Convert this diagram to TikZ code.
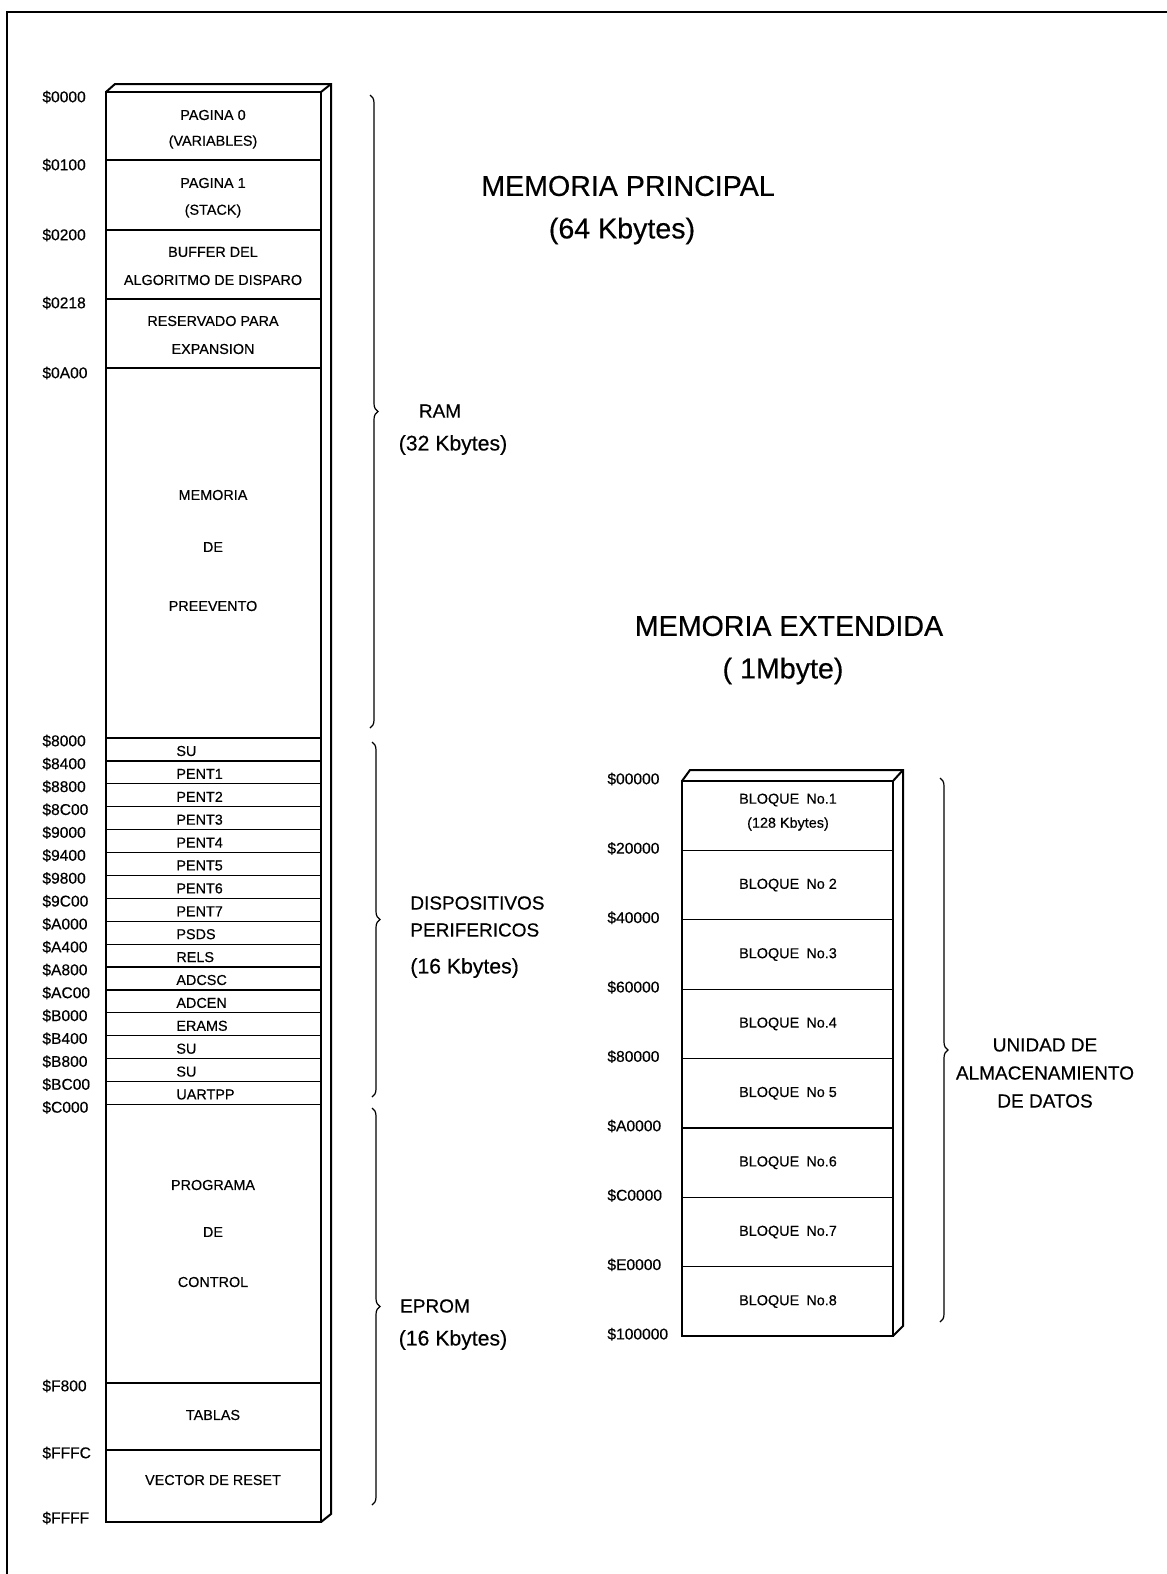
\documentclass[tikz,border=0pt]{standalone}
\usepackage{fontspec}
\setmainfont{Liberation Sans}[FakeBold=0.4]
\usetikzlibrary{positioning, decorations.pathreplacing}
\tikzset{x=0.5pt, y=-0.5pt, % one unit is one pixel of the scan
celda/.style={font=\fontsize{7.2}{8}\selectfont, inner sep=0pt}, % text inside the map
dir/.style={font=\fontsize{7.8}{9}\selectfont, inner sep=0pt, anchor=west}, % addresses
caja/.style={line width=1pt},
linea/.style={line width=0.6pt},
llave/.style={decorate, decoration={brace, amplitude=4pt}, line width=0.6pt},
rotulo/.style={font=\fontsize{9.5}{12}\selectfont, inner sep=0pt},
tamano/.style={font=\fontsize{10.6}{12}\selectfont, inner sep=0pt}, % the (xx Kbytes) lines
titulo/.style={font=\fontsize{14.3}{18}\selectfont, inner sep=0pt},
}

\begin{document}
\begin{tikzpicture}
  \useasboundingbox (0,0) rectangle (1167,1574);
  % frame
  \draw[linea] (7,1574) -- (7,12) -- (1167,12);

  % main memory box
  \draw[caja] (106,92) rectangle (321,1522);
  \draw[caja] (106,92) -- (115,84) -- (331,84) -- (331,1514) -- (321,1522);
  \draw[caja] (321,92) -- (331,84);
  \foreach \y in {160,230,299,368,1383,1450}
    \draw[linea] (106,\y) -- (321,\y);
  \foreach \i in {0,...,16}
    \draw[linea] (106,738+22.9*\i) -- (321,738+22.9*\i);

  \node[celda] (p0a) at (213,115) {PAGINA 0};
  \node[celda] (p0b) at (213,142) {(VARIABLES)};
  \node[celda] (p1a) at (213,183) {PAGINA 1};
  \node[celda] (p1b) at (213,211) {(STACK)};
  \node[celda] (bufa) at (213,252) {BUFFER DEL};
  \node[celda] (bufb) at (213,280) {ALGORITMO DE DISPARO};
  \node[celda] (resa) at (213,321) {RESERVADO PARA};
  \node[celda] (resb) at (213,349) {EXPANSION};
  \node[celda] (prea) at (213,495) {MEMORIA};
  \node[celda] (preb) at (213,547) {DE};
  \node[celda] (prec) at (213,606) {PREEVENTO};
  \node[celda] (proa) at (213,1185) {PROGRAMA};
  \node[celda] (prob) at (213,1232) {DE};
  \node[celda] (proc) at (213,1282) {CONTROL};
  \node[celda] (tab) at (213,1415) {TABLAS};
  \node[celda] (vec) at (213,1480) {VECTOR DE RESET};

  \foreach \i/\nombre in {0/SU,1/PENT1,2/PENT2,3/PENT3,4/PENT4,5/PENT5,6/PENT6,7/PENT7,
      8/PSDS,9/RELS,10/ADCSC,11/ADCEN,12/ERAMS,13/SU,14/SU,15/UARTPP}
    \node[celda, anchor=west] (per\i) at (176,751+22.9*\i) {\nombre};

  % addresses of the main memory
  \foreach \y/\texto [count=\n] in {97/\$0000,165/\$0100,235/\$0200,303/\$0218,373/\$0A00,1386/\$F800,1453/\$FFFC,1518/\$FFFF}
    \node[dir] (dp\n) at (42,\y) {\texto};
  \foreach \i/\texto in {0/\$8000,1/\$8400,2/\$8800,3/\$8C00,4/\$9000,5/\$9400,6/\$9800,7/\$9C00,8/\$A000,
      9/\$A400,10/\$A800,11/\$AC00,12/\$B000,13/\$B400,14/\$B800,15/\$BC00,16/\$C000}
    \node[dir] (dq\i) at (42,741+22.9*\i) {\texto};

  % braces of the main memory
  \draw[llave] (370,95) -- (370,728);
  \draw[llave] (372,742) -- (372,1097);
  \draw[llave] (372,1108) -- (372,1505);
  \node[rotulo] (ram) at (440,411) {RAM};
  \node[tamano] (ramk) at (453,445) {(32 Kbytes)};
  \node[rotulo, anchor=west] (disa) at (410,903) {DISPOSITIVOS};
  \node[rotulo, anchor=west] (disb) at (410,930) {PERIFERICOS};
  \node[tamano, anchor=west] (disk) at (410,968) {(16 Kbytes)};
  \node[rotulo] (eprom) at (435,1306) {EPROM};
  \node[tamano] (epromk) at (453,1340) {(16 Kbytes)};

  % titles
  \node[titulo] (princ) at (628,186) {MEMORIA PRINCIPAL};
  \node[titulo] (princk) at (622,231) {(64 Kbytes)};
  \node[titulo] (ext) at (789,626) {MEMORIA EXTENDIDA};
  \node[titulo] (extk) at (783,671) {(\hspace{4pt}1Mbyte)};

  % extended memory box
  \draw[caja] (682,781) rectangle (893,1336);
  \draw[caja] (682,781) -- (690,770) -- (903,770) -- (903,1326) -- (893,1336);
  \draw[caja] (893,781) -- (903,770);
  \foreach \i in {1,...,7}
    \draw[linea] (682,781+69.4*\i) -- (893,781+69.4*\i);
  \node[celda] (b1) at (788,800) {BLOQUE\enspace No.1};
  \node[celda] (b1k) at (788,824) {(128 Kbytes)};
  \foreach \i/\nombre in {1/No 2,2/No.3,3/No.4,4/No 5,5/No.6,6/No.7,7/No.8}
    \node[celda] (b\i x) at (788,781+69.4*\i+34.7) {BLOQUE\enspace \nombre};
  \foreach \i/\texto in {0/\$00000,1/\$20000,2/\$40000,3/\$60000,4/\$80000,5/\$A0000,6/\$C0000,7/\$E0000,8/\$100000}
    \node[dir] (de\i) at (607,779+69.4*\i) {\texto};

  \draw[llave] (940,778) -- (940,1322);
  \node[rotulo] (una) at (1045,1045) {UNIDAD DE};
  \node[rotulo] (unb) at (1045,1073) {ALMACENAMIENTO};
  \node[rotulo] (unc) at (1045,1101) {DE DATOS};
\end{tikzpicture}
\end{document}
